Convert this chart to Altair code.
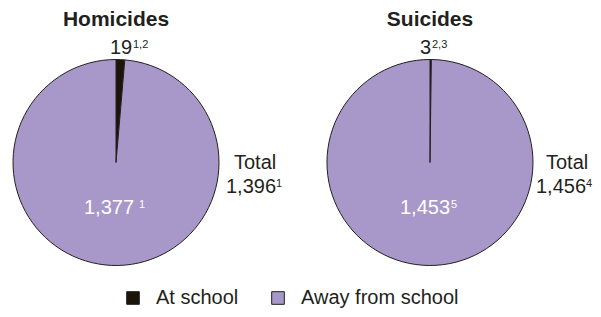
import altair as alt
import pandas as pd

# ---- data ----
panels = ["Homicides", "Suicides"]
locations = ["At school", "Away from school"]
homicides = [19, 1377]
suicides = [3, 1453]
school_labels = ["19", "3"]
school_notes = ["1,2", "2,3"]
away_labels = ["1,377", "1,453"]
away_notes = ["1", "5"]
total_word = ["Total", "Total"]
total_labels = ["1,396", "1,456"]
total_notes = ["1", "4"]

# ---- styling / layout ----
PURPLE = "#a898c9"
BLACK = "#1a1409"
INK = "#231f20"
FONT = "Liberation Sans"
W, H = 585, 301
CX = [108, 422]      # pie centres (chart coords)
CY = 154.5
R = 103

series = [homicides, suicides]
rows = []
for p, vals in zip(panels, series):
    for i, (loc, v) in enumerate(zip(locations, vals)):
        rows.append({"panel": p, "location": loc, "count": v, "order": i})
slices = pd.DataFrame(rows)

color = alt.Color(
    "location:N",
    scale=alt.Scale(domain=locations, range=[BLACK, PURPLE]),
    legend=alt.Legend(
        title=None,
        orient="none",
        legendX=115,
        legendY=280,
        direction="horizontal",
        symbolType="square",
        symbolSize=160,
        symbolStrokeColor=INK,
        symbolStrokeWidth=1,
        labelFontSize=20,
        labelFont=FONT,
        labelColor=INK,
        labelOffset=13,
        columnPadding=29,
        padding=0,
        labelLimit=300,
    ),
)

layers = []
for i, p in enumerate(panels):
    layers.append(
        alt.Chart(slices)
        .transform_filter(alt.datum.panel == p)
        .mark_arc(radius=R, stroke=INK, strokeWidth=1)
        .encode(
            x=alt.value(CX[i]),
            y=alt.value(CY),
            theta=alt.Theta("count:Q", stack="normalize"),
            color=color,
            order=alt.Order("order:Q"),
        )
    )

# per-panel text offsets relative to pie centre (dx)
school_dx = [-6, -10]
school_note_dx = [17, 2]
away_dx = [-32, -30]
away_note_dx = [23, 21]
total_word_dx = [118, 116]
total_dx = [110, 106]
total_note_dx = [160, 156]


def text_layer(value, x, y, size, weight="normal", col=INK, align="left"):
    df = pd.DataFrame({"label": [value]})
    return (
        alt.Chart(df)
        .mark_text(
            align=align,
            baseline="alphabetic",
            fontSize=size,
            fontWeight=weight,
            font=FONT,
            color=col,
        )
        .encode(x=alt.value(x), y=alt.value(y), text="label:N")
    )


for i in range(len(panels)):
    cx = CX[i]
    layers.append(text_layer(panels[i], cx, CY - 136.5, 21, "bold", align="center"))
    layers.append(text_layer(school_labels[i], cx + school_dx[i], CY - 108.5, 20))
    layers.append(text_layer(school_notes[i], cx + school_note_dx[i], CY - 115, 11))
    layers.append(text_layer(total_word[i], cx + total_word_dx[i], CY + 6.5, 20))
    layers.append(text_layer(total_labels[i], cx + total_dx[i], CY + 30.5, 20))
    layers.append(text_layer(total_notes[i], cx + total_note_dx[i], CY + 24, 11))
    layers.append(text_layer(away_labels[i], cx + away_dx[i], CY + 51.5, 20, col="white"))
    layers.append(text_layer(away_notes[i], cx + away_note_dx[i], CY + 45, 11, col="white"))

chart = (
    alt.layer(*layers)
    .properties(width=W, height=H, padding=0, autosize=alt.AutoSizeParams(type="none"))
    .configure_view(stroke=None)
)

chart.save("out.html", embed_options={"renderer": "svg", "actions": False})
